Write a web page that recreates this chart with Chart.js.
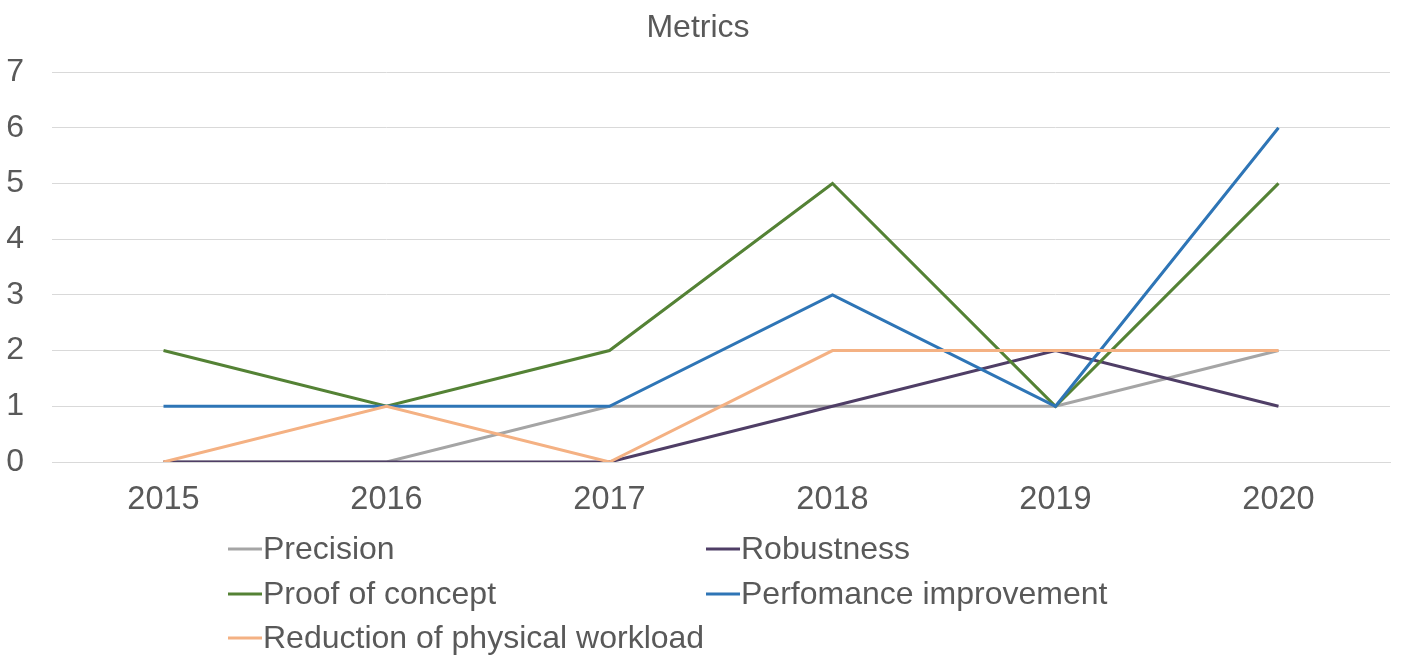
<!DOCTYPE html>
<html>
<head>
<meta charset="utf-8">
<script src="https://cdn.jsdelivr.net/npm/chart.js@4/dist/chart.umd.min.js"></script>
<style>
  html, body { margin: 0; padding: 0; background: #fff; }
  #wrap { width: 1403px; height: 667px; position: relative; }
</style>
</head>
<body>
<div id="wrap"><canvas id="metricsChart"></canvas></div>
<script>
// Data
const years = ["2015", "2016", "2017", "2018", "2019", "2020"];
const precision = [0, 0, 1, 1, 1, 2];
const robustness = [0, 0, 0, 1, 2, 1];
const proofOfConcept = [2, 1, 2, 5, 1, 5];
const performance = [1, 1, 1, 3, 1, 6];
const reduction = [0, 1, 0, 2, 2, 2];

const seriesNames = ["Precision", "Robustness", "Proof of concept", "Perfomance improvement", "Reduction of physical workload"];
const seriesData = [precision, robustness, proofOfConcept, performance, reduction];
const seriesColors = ["#A5A5A5", "#4F3E66", "#548235", "#2E75B6", "#F4B183"];

const textColor = "#595959";
const fontFamily = "'Liberation Sans', Arial, sans-serif";

// Legend drawn in two columns, like the original
const legendPlugin = {
  id: "twoColLegend",
  afterDraw(chart) {
    const ctx = chart.ctx;
    const cols = [228, 706];
    const rows = [549, 594, 638];
    ctx.save();
    ctx.font = "32px " + fontFamily;
    ctx.textBaseline = "middle";
    ctx.textAlign = "left";
    chart.data.datasets.forEach((ds, i) => {
      const x = cols[i % 2];
      const y = rows[Math.floor(i / 2)];
      ctx.strokeStyle = ds.borderColor;
      ctx.lineWidth = 3;
      ctx.beginPath();
      ctx.moveTo(x, y);
      ctx.lineTo(x + 34, y);
      ctx.stroke();
      ctx.fillStyle = textColor;
      ctx.fillText(ds.label, x + 35, y + 1);
    });
    ctx.restore();
  }
};

const ctx = document.getElementById("metricsChart").getContext("2d");
const chart = new Chart(ctx, {
  type: "line",
  data: {
    labels: years,
    datasets: seriesNames.map((name, i) => ({
      label: name,
      data: seriesData[i],
      borderColor: seriesColors[i],
      backgroundColor: seriesColors[i],
      borderWidth: 3,
      pointRadius: 0,
      tension: 0,
      fill: false,
      order: seriesNames.length - i
    }))
  },
  options: {
    responsive: true,
    maintainAspectRatio: false,
    animation: false,
    layout: { padding: { left: 6, right: 13, top: 0, bottom: 128 } },
    plugins: {
      legend: { display: false },
      tooltip: { enabled: false },
      title: {
        display: true,
        text: "Metrics",
        color: textColor,
        font: { family: fontFamily, size: 32, weight: "normal" },
        padding: { top: 9, bottom: 24.6 }
      }
    },
    scales: {
      x: {
        offset: true,
        grid: { display: false, drawTicks: false },
        border: { display: true, color: "#D9D9D9", width: 1 },
        ticks: { color: textColor, font: { family: fontFamily, size: 32.5 }, padding: 19 }
      },
      y: {
        min: 0,
        max: 7,
        grid: { color: "#D9D9D9", lineWidth: 1, drawTicks: false },
        border: { display: false },
        ticks: { stepSize: 1, color: textColor, font: { family: fontFamily, size: 32 }, padding: 28 },
        afterFit: (scale) => { scale.width = 46; }
      }
    }
  },
  plugins: [legendPlugin]
});
</script>
</body>
</html>
